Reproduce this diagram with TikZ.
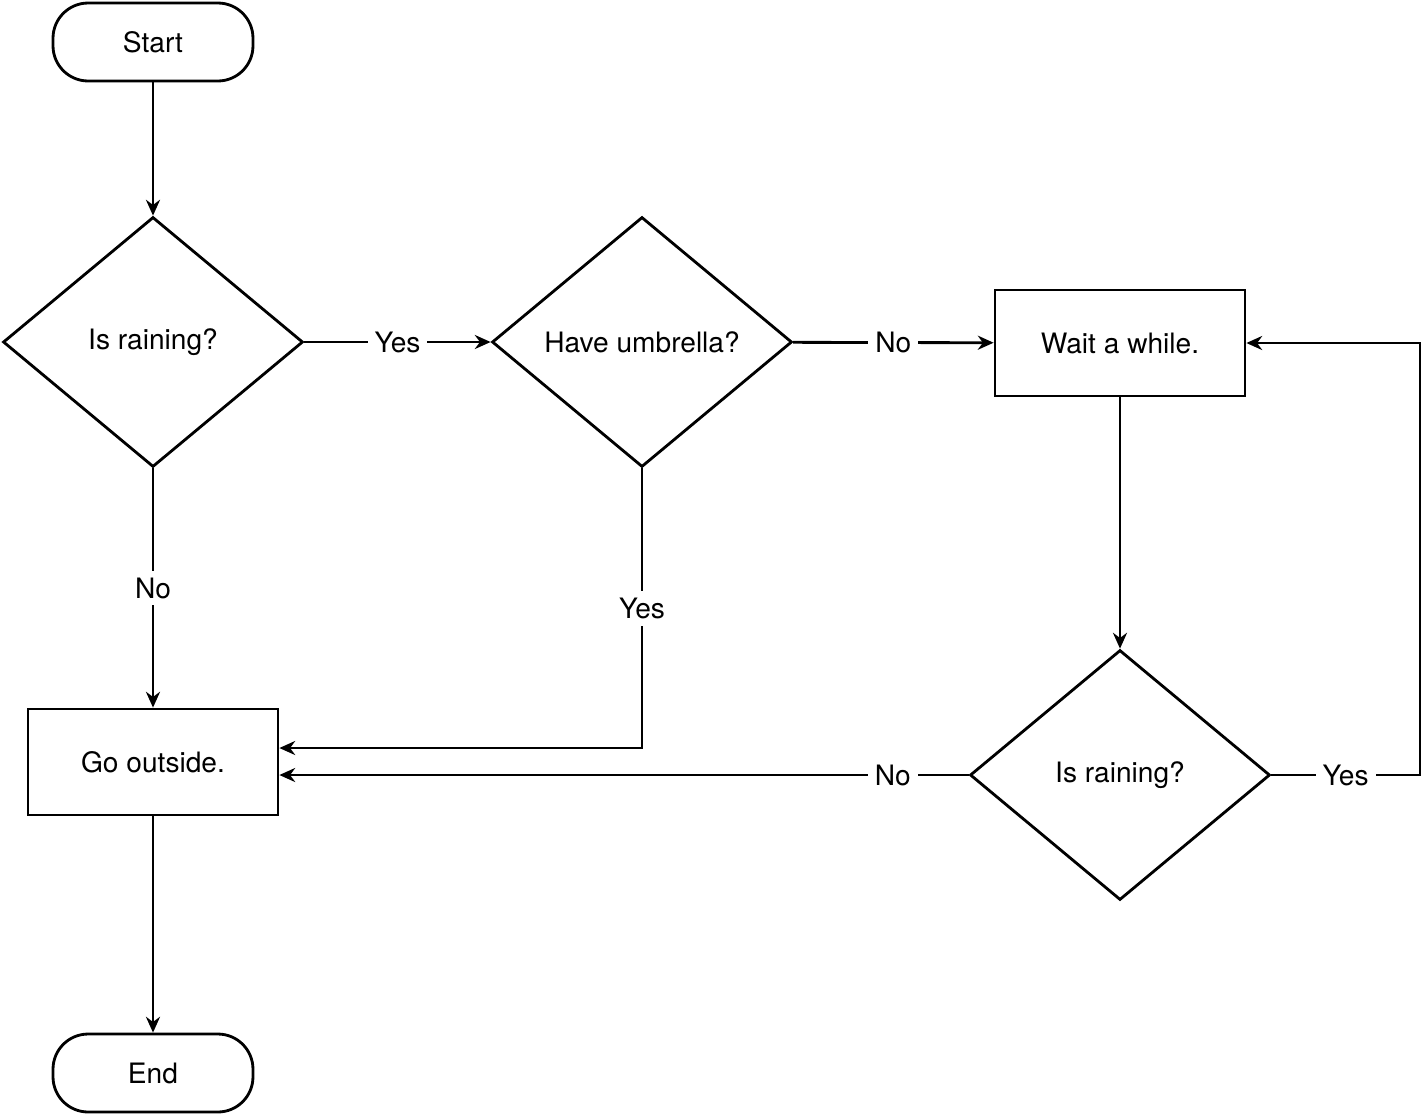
\documentclass[tikz,border=0pt]{standalone}
\usepackage{fontspec}
\setmainfont{TeX Gyre Heros}
\usetikzlibrary{shapes.geometric,arrows.meta}
\begin{document}
\begin{tikzpicture}[x=0.02cm,y=-0.02cm,
    line width=1.6pt, >={Stealth[length=9pt,width=8pt]},
    font=\fontsize{16}{19}\selectfont,
    term style/.style={draw, rounded corners=20pt, minimum width=4cm, minimum height=1.56cm},
    box style/.style={draw, minimum width=5cm, minimum height=2.12cm},
    test style/.style={draw, diamond, inner sep=0pt, minimum width=6cm, minimum height=5cm},
    lab style/.style={fill=white, inner sep=4pt}]
    \useasboundingbox (0,0) rectangle (1424,1117);

    \node[term style] (start) at (153,42) {Start};
    \node[test style] (rain1) at (153,342) {Is raining?};
    \node[test style] (umb) at (642,342) {Have umbrella?};
    \node[box style] (wait) at (1120,343) {Wait a while.};
    \node[test style] (rain2) at (1120,775) {Is raining?};
    \node[box style] (go) at (153,762) {Go outside.};
    \node[term style] (end) at (153,1073) {End};
    \coordinate (c1) at (642,748);
    \coordinate (c2) at (1420,775);
    \coordinate (c3) at (1420,343);

    \draw[->] (start) -- (rain1);
    \draw[->] (rain1) -- node[lab style] {Yes} (umb);
    \draw[->] (rain1) -- node[lab style] {No} (go);
    \draw[->] (umb) -- node[lab style] {No} (wait);
    \draw[->] (umb) -- node[lab style] {Yes} (c1) -- (go.east |- c1);
    \draw[->] (wait) -- (rain2);
    \draw[->] (rain2) -- node[lab style, pos=0.11] {No} (go.east |- rain2);
    \draw[->] (rain2) -- node[lab style, pos=0.5] {Yes} (c2) -- (c3) -- (wait);
    \draw[->] (go) -- (end);
\end{tikzpicture}
\end{document}
